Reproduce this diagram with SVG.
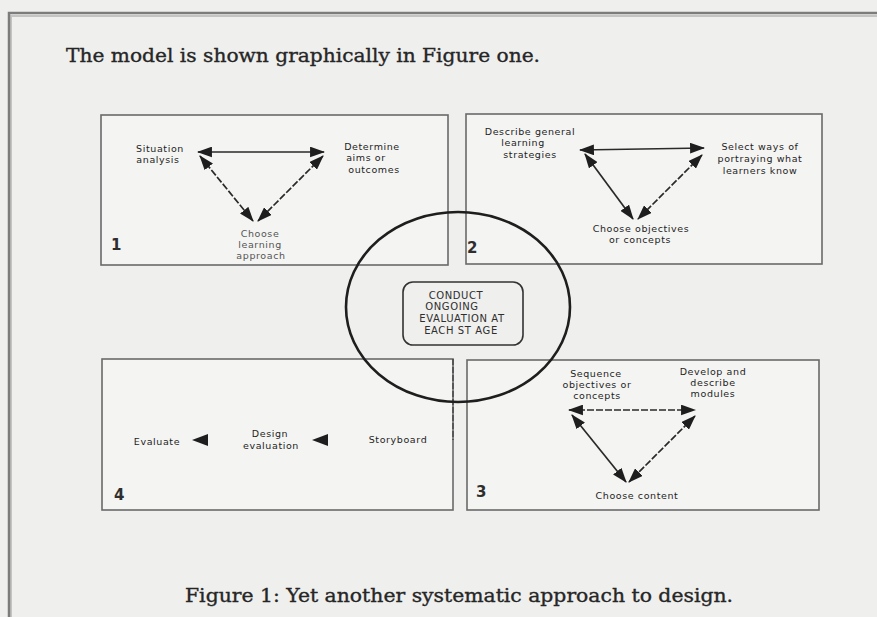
<svg xmlns="http://www.w3.org/2000/svg" width="877" height="617" viewBox="0 0 877 617">
  <defs>
    <marker id="head" viewBox="0 0 14 10" refX="13" refY="5" markerWidth="15" markerHeight="11" markerUnits="userSpaceOnUse" orient="auto-start-reverse">
      <path d="M0,0 L14,5 L0,10 z" fill="#1e1e1e"/>
    </marker>
    <style>
      .page { fill: #efefed; }
      .frame { stroke: #7c7c7c; stroke-width: 2.5; fill: none; }
      .frame-soft { stroke: #c4c4c2; stroke-width: 2; fill: none; }
      .panel { fill: #f4f4f2; stroke: #6a6a6a; stroke-width: 1.6; }
      .panel-dash { stroke: #444; stroke-width: 1.4; stroke-dasharray: 6 2; }
      .serif { font-family: "DejaVu Serif", "Liberation Serif", serif; fill: #262626; stroke: #262626; stroke-width: 0.35; font-size: 19px; }
      .lbl { font-family: "DejaVu Sans", "Liberation Sans", sans-serif; font-size: 9.5px; fill: #1e1e1e; text-anchor: middle; letter-spacing: 0.6px; }
      .faint { fill: #555; }
      .num { font-family: "DejaVu Sans", "Liberation Sans", sans-serif; font-size: 15px; fill: #2e2e2e; font-weight: bold; }
      .caps { font-family: "DejaVu Sans", "Liberation Sans", sans-serif; font-size: 10px; fill: #2e2e2e; text-anchor: middle; letter-spacing: 0.6px; }
      .link { stroke: #2a2a2a; stroke-width: 1.7; fill: none; marker-start: url(#head); marker-end: url(#head); }
      .dotted { stroke-dasharray: 7 2; }
      .ring { fill: none; stroke: #1e1e1e; stroke-width: 2.6; }
      .hub { fill: none; stroke: #333; stroke-width: 1.6; }
      .tri { fill: #1e1e1e; }
    </style>
  </defs>

  <!-- page and frame -->
  <rect class="page" x="0" y="0" width="877" height="617"/>
  <path class="frame-soft" d="M11,617 V16 H877"/>
  <path class="frame" d="M9,617 V13 H877"/>

  <text class="serif" x="66" y="62" textLength="474" lengthAdjust="spacingAndGlyphs">The model is shown graphically in Figure one.</text>

  <!-- panel 1 -->
  <g id="panel1">
    <rect class="panel" x="101" y="115" width="347" height="150"/>
    <text class="lbl" x="160" y="152">Situation</text>
    <text class="lbl" x="158" y="163">analysis</text>
    <text class="lbl" x="372" y="150">Determine</text>
    <text class="lbl" x="366" y="161">aims or</text>
    <text class="lbl" x="374" y="173">outcomes</text>
    <text class="lbl faint" x="260" y="237">Choose</text>
    <text class="lbl faint" x="260" y="248">learning</text>
    <text class="lbl faint" x="261" y="259">approach</text>
    <text class="num" x="111" y="250">1</text>
  </g>

  <!-- panel 2 -->
  <g id="panel2">
    <rect class="panel" x="466" y="114" width="356" height="150"/>
    <text class="lbl" x="530" y="135">Describe general</text>
    <text class="lbl" x="523" y="146">learning</text>
    <text class="lbl" x="530" y="158">strategies</text>
    <text class="lbl" x="760" y="150">Select ways of</text>
    <text class="lbl" x="760" y="162">portraying what</text>
    <text class="lbl" x="760" y="174">learners know</text>
    <text class="lbl" x="641" y="232">Choose objectives</text>
    <text class="lbl" x="640" y="243">or concepts</text>
    <text class="num" x="467" y="253">2</text>
  </g>

  <!-- panel 4 -->
  <g id="panel4">
    <rect class="panel" x="102" y="359" width="351" height="151"/>
    <line class="panel-dash" x1="453" y1="359" x2="453" y2="440"/>
    <text class="lbl" x="157" y="445">Evaluate</text>
    <text class="lbl" x="270" y="437">Design</text>
    <text class="lbl" x="271" y="449">evaluation</text>
    <text class="lbl" x="398" y="443">Storyboard</text>
    <text class="num" x="114" y="500">4</text>
  </g>

  <!-- panel 3 -->
  <g id="panel3">
    <rect class="panel" x="467" y="360" width="352" height="150"/>
    <text class="lbl" x="596" y="377">Sequence</text>
    <text class="lbl" x="597" y="388">objectives or</text>
    <text class="lbl" x="597" y="399">concepts</text>
    <text class="lbl" x="713" y="375">Develop and</text>
    <text class="lbl" x="713" y="386">describe</text>
    <text class="lbl" x="713" y="397">modules</text>
    <text class="lbl" x="637" y="499">Choose content</text>
    <text class="num" x="476" y="497">3</text>
  </g>

  <!-- central evaluation hub -->
  <g id="hub">
    <ellipse class="ring" cx="458" cy="307" rx="112" ry="95"/>
    <rect class="hub" x="403" y="282" width="120" height="63" rx="10"/>
    <text class="caps" x="456" y="299">CONDUCT</text>
    <text class="caps" x="452" y="310">ONGOING</text>
    <text class="caps" x="462" y="322">EVALUATION  AT</text>
    <text class="caps" x="461" y="334">EACH ST AGE</text>
  </g>

  <!-- connectors -->
  <g id="connectors">
    <line class="link" x1="198" y1="152" x2="324" y2="152"/>
    <line class="link dotted" x1="200" y1="156" x2="253" y2="221"/>
    <line class="link dotted" x1="323" y1="156" x2="258" y2="221"/>

    <line class="link" x1="580" y1="150" x2="704" y2="148"/>
    <line class="link" x1="585" y1="154" x2="633" y2="219"/>
    <line class="link dotted" x1="702" y1="155" x2="638" y2="219"/>

    <line class="link dotted" x1="569" y1="410" x2="695" y2="410"/>
    <line class="link" x1="572" y1="415" x2="626" y2="482"/>
    <line class="link dotted" x1="695" y1="416" x2="629" y2="482"/>

    <path class="tri" d="M192,440 L208,434 L208,446 z"/>
    <path class="tri" d="M312,440 L328,434 L328,446 z"/>
  </g>

  <text class="serif" x="185" y="602" textLength="548" lengthAdjust="spacingAndGlyphs">Figure 1: Yet another systematic approach to design.</text>
</svg>
